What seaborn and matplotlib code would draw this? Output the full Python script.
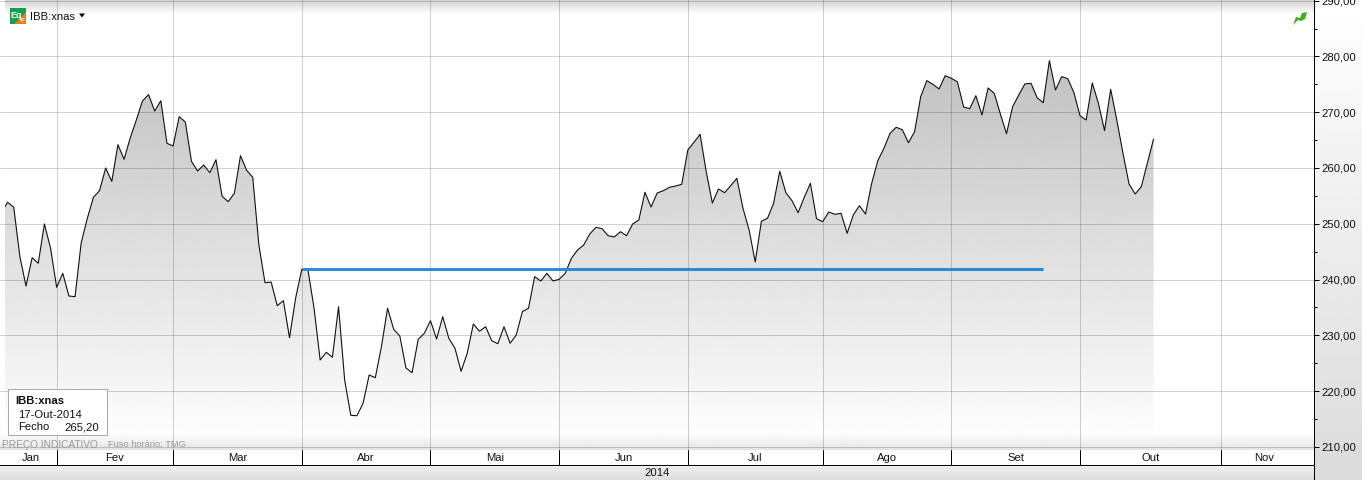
import numpy as np
import pandas as pd
import seaborn as sns
import matplotlib.pyplot as plt
from matplotlib.patches import Polygon, Rectangle

# closing prices, one per trading day (first one sits just off the visible start)
closes = [
    252.10, 253.85, 252.95, 244.09, 238.83, 243.91, 242.91, 249.96, 245.65, 238.60,
    241.11, 237.04, 236.92, 246.55, 250.94, 254.74, 255.93, 260.00, 257.61, 264.18,
    261.56, 265.38, 268.61, 272.02, 273.15, 270.22, 272.07, 264.43, 263.95, 269.20,
    268.25, 261.20, 259.46, 260.54, 259.16, 261.49, 254.92, 253.96, 255.46, 262.21,
    259.59, 258.33, 246.19, 239.43, 239.55, 235.30, 236.20, 229.56, 236.68, 241.83,
    241.79, 234.89, 225.56, 226.94, 226.05, 235.12, 221.97, 215.64, 215.57, 217.79,
    222.87, 222.39, 227.95, 234.84, 231.07, 229.87, 224.13, 223.28, 229.27, 230.35,
    232.61, 229.33, 233.33, 229.45, 227.66, 223.53, 226.76, 232.02, 230.71, 231.54,
    229.02, 228.48, 231.54, 228.56, 230.05, 234.23, 234.84, 240.50, 239.73, 241.11,
    239.73, 240.04, 241.11, 243.80, 245.29, 246.19, 248.16, 249.36, 249.11, 247.86,
    247.63, 248.57, 247.86, 249.96, 250.67, 255.64, 253.00, 255.52, 255.93, 256.54,
    256.77, 257.08, 263.23, 264.61, 266.04, 259.34, 253.72, 256.24, 255.57, 256.83,
    258.15, 252.77, 248.88, 243.14, 250.44, 250.98, 253.67, 259.41, 255.57, 254.13,
    251.98, 254.74, 257.26, 250.91, 250.37, 252.11, 251.69, 251.87, 248.29, 251.57,
    253.24, 251.75, 257.26, 261.31, 263.53, 266.23, 267.30, 266.87, 264.54, 266.51,
    272.79, 275.66, 275.01, 274.17, 276.56, 276.09, 275.43, 270.94, 270.64, 272.97,
    269.51, 274.35, 273.40, 269.69, 266.15, 270.99, 273.09, 275.07, 275.19, 272.61,
    271.71, 279.25, 273.99, 276.38, 276.02, 273.51, 269.38, 268.61, 275.25, 271.60,
    266.69, 274.12, 268.61, 262.69, 257.13, 255.34, 256.65, 260.95, 265.20,
]
month_names = ["Jan", "Fev", "Mar", "Abr", "Mai", "Jun", "Jul", "Ago", "Set", "Out", "Nov"]
# trading day index where each month after January starts
month_starts = [8, 27, 48, 69, 90, 111, 133, 154, 175, 198]
price_ticks = [210, 220, 230, 240, 250, 260, 270, 280, 290]
price_minor = [215, 225, 235, 245, 255, 265, 275, 285]
price_labels = ["210,00", "220,00", "230,00", "240,00", "250,00", "260,00", "270,00", "280,00", "290,00"]
level_value = 241.83
level_days = [48, 169]

W, H = 1362, 480
FIRST_DAY = -0.42  # series is cut here, the line enters from the left
LAST_LABEL_DAY = 212.0
X_MIN, X_MAX = -1.245, 213.1
Y_MIN, Y_MAX = 209.42, 290.13
PLOT_RIGHT, PLOT_BOTTOM = 1313.5, 450
HAIR = 0.72  # one pixel at this dpi

sns.set_theme(style="white")
plt.rcParams["font.family"] = ["Liberation Sans", "DejaVu Sans"]

days = pd.DataFrame({"day": np.arange(len(closes)) - 1, "close": closes})

fig = plt.figure(figsize=(W / 100, H / 100), dpi=100, facecolor="white")

# backdrop in pixels: right gutter and bottom strip
bg = fig.add_axes([0, 0, 1, 1], zorder=0)
bg.imshow(np.linspace(1, 0, 256).reshape(-1, 1), extent=(PLOT_RIGHT, W, H, 0), aspect="auto", cmap="gray",
          vmin=-6.0, vmax=1.0, interpolation="bilinear")
bg.imshow(np.linspace(0.94, 0.87, 32).reshape(-1, 1), extent=(0, PLOT_RIGHT, H, 465), aspect="auto",
          cmap="gray", vmin=0, vmax=1, interpolation="bilinear")
bg.set_xlim(0, W)
bg.set_ylim(H, 0)
bg.axis("off")

ax = fig.add_axes([0, 1 - PLOT_BOTTOM / H, PLOT_RIGHT / W, PLOT_BOTTOM / H], zorder=1)
ax.set_facecolor("white")

# area below the line, grey fading to white downwards
fill = ax.fill_between(days["day"], days["close"], Y_MIN, facecolor="none", edgecolor="none")
shade = ax.imshow(np.linspace(255, 183, 256).reshape(-1, 1), origin="lower",
                  extent=(X_MIN, X_MAX, 210, 290), aspect="auto",
                  cmap="gray", vmin=0, vmax=255, zorder=1)
shade.set_clip_path(fill.get_paths()[0], transform=ax.transData)
ax.add_patch(Rectangle((X_MIN, Y_MIN), FIRST_DAY - X_MIN, Y_MAX - Y_MIN,
                       facecolor="white", edgecolor="none", zorder=1.5))

# top and bottom soft bands of the plot frame
ax.imshow(np.linspace(0, 1, 64).reshape(-1, 1), origin="upper", extent=(X_MIN, X_MAX, 287.6, Y_MAX),
          aspect="auto", cmap="gray", vmin=-4.5, vmax=1.0, zorder=0.5)
band = np.ones((64, 1, 4))
band[:, :, :3] = 0.8
band[:, 0, 3] = np.linspace(0.55, 0, 64)
ax.imshow(band, origin="lower", extent=(X_MIN, X_MAX, Y_MIN, 212.2), aspect="auto", zorder=2)

ax.set_xticks(month_starts)
ax.set_yticks(price_ticks)
ax.set_yticks(price_minor, minor=True)
ax.set_yticklabels(price_labels)
ax.grid(True, which="major", color="black", alpha=0.18, linewidth=HAIR, zorder=2.5)
ax.set_axisbelow(False)

sns.lineplot(data=days, x="day", y="close", color="#111111", linewidth=0.8, ax=ax,
             errorbar=None, zorder=4)
ax.lines[-1].set_clip_path(Rectangle((FIRST_DAY, Y_MIN), X_MAX - FIRST_DAY, Y_MAX - Y_MIN,
                                     transform=ax.transData))

level = pd.DataFrame({"day": level_days, "close": [level_value, level_value]})
sns.lineplot(data=level, x="day", y="close", color="#2e8bd3", linewidth=2.2, ax=ax,
             errorbar=None, zorder=5, solid_capstyle="butt")

ax.set_xlim(X_MIN, X_MAX)
ax.set_ylim(Y_MIN, Y_MAX)
ax.set_xlabel("")
ax.set_ylabel("")
ax.yaxis.tick_right()
ax.tick_params(axis="y", which="major", length=3.6, width=HAIR, color="black", labelsize=8.1,
               labelcolor="#111111", pad=2.2, right=True, left=False)
ax.tick_params(axis="y", which="minor", length=2.2, width=HAIR, color="black", right=True, left=False)
ax.tick_params(axis="x", length=0, labelbottom=False)
for name in ["top", "left"]:
    ax.spines[name].set_visible(False)
for name in ["right", "bottom"]:
    ax.spines[name].set_color("black")
    ax.spines[name].set_linewidth(HAIR)

# month band below the plot, shares the day scale
months = fig.add_axes([0, 1 - 465 / H, PLOT_RIGHT / W, 15 / H], zorder=1, sharex=ax)
months.set_facecolor("white")
months.set_ylim(0, 1)
months.set_yticks([])
months.tick_params(axis="x", length=0, labelbottom=False)
for name in ["top", "left", "right"]:
    months.spines[name].set_visible(False)
months.spines["bottom"].set_color("black")
months.spines["bottom"].set_linewidth(HAIR)
for start in month_starts:
    months.axvline(start, color="black", linewidth=HAIR)
edges = [FIRST_DAY] + month_starts + [LAST_LABEL_DAY]
for name, left, right in zip(month_names, edges[:-1], edges[1:]):
    months.text((left + right) / 2, 0.44, name, ha="center", va="center", fontsize=8.1, color="#111111")

# overlay in pixels: legend box, icons, footnotes
top = fig.add_axes([0, 0, 1, 1], zorder=3)
top.set_xlim(0, W)
top.set_ylim(H, 0)
top.axis("off")
top.patch.set_alpha(0)
top.plot([PLOT_RIGHT, PLOT_RIGHT], [450, H], color="black", linewidth=HAIR)

top.add_patch(Rectangle((7.6, 389.2), 99.4, 45.6, facecolor="white", edgecolor="#a8a8a8", linewidth=HAIR))
top.text(15.5, 401.5, "IBB:xnas", fontsize=8.1, fontweight="bold", color="#111111", va="center")
top.text(18.5, 414.5, "17-Out-2014", fontsize=8.1, color="#111111", va="center")
top.text(18.5, 427.5, "Fecho", fontsize=8.1, color="#111111", va="center")
top.text(99.5, 427.5, "265,20", fontsize=8.1, color="#111111", va="center", ha="right")
top.text(2, 444.5, "PREÇO INDICATIVO", fontsize=7.3, color="#9a9a9a", va="center")
top.text(108, 444.5, "Fuso horário: TMG", fontsize=6.7, color="#9a9a9a", va="center")
top.text(657, 473.5, "2014", fontsize=8.1, color="#111111", ha="center", va="center")
top.text(30, 16.5, "IBB:xnas", fontsize=8.1, color="#111111", va="center")

top.add_patch(Polygon([(79, 13.5), (85, 13.5), (82, 17.5)], facecolor="black", edgecolor="none"))
top.add_patch(Rectangle((10, 8), 16, 16, facecolor="#12a04a", edgecolor="none"))
top.add_patch(Polygon([(26, 12), (26, 24), (14, 24)], facecolor="#f07a1a", edgecolor="none"))
top.text(16.5, 15, "Eq", fontsize=6.5, fontweight="bold", color="white", ha="center", va="center")
top.text(22.8, 20.5, "F", fontsize=4.5, fontweight="bold", color="white", ha="center", va="center")
top.add_patch(Polygon([(1293, 25), (1296, 17), (1300, 18), (1302, 13), (1307, 12), (1305, 19),
                       (1301, 21), (1298, 20)], facecolor="#3fae1c", edgecolor="none"))

fig.savefig("out.png", dpi=100)
